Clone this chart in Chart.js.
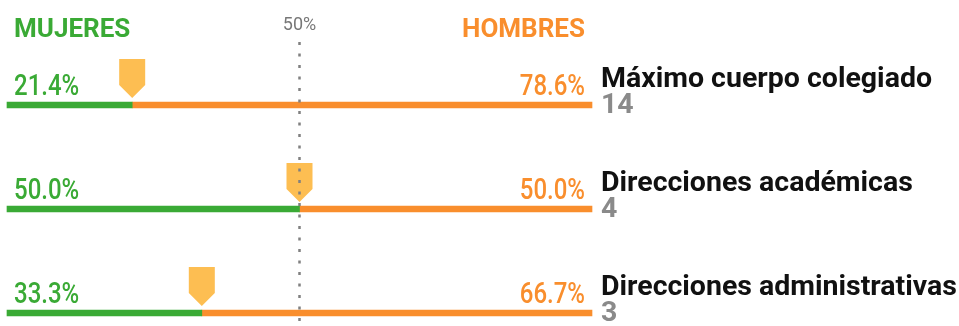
<!DOCTYPE html>
<html>
<head>
<meta charset="utf-8">
<script src="https://cdn.jsdelivr.net/npm/chart.js@4"></script>
<style>
  html, body { margin: 0; padding: 0; background: #fff; }
</style>
</head>
<body>
<canvas id="myChart" width="959" height="326"></canvas>
<script>
var categories = ['Máximo cuerpo colegiado', 'Direcciones académicas', 'Direcciones administrativas'];
var totals = [14, 4, 3];
var mujeres = [21.4, 50.0, 33.3];
var hombres = [78.6, 50.0, 66.7];

var GREEN = '#3aaa35';
var ORANGE = '#f98e2d';
var MARKER = '#fdbe52';

// titles, percentages, markers and the 50% reference line
var overlay = {
    id: 'overlay',
    afterDatasetsDraw: function(chart) {
        var ctx = chart.ctx;
        var x = chart.scales.x;
        var y = chart.scales.y;
        var left = x.getPixelForValue(0);
        var right = x.getPixelForValue(100);
        var mid = x.getPixelForValue(50);

        ctx.save();
        ctx.textBaseline = 'alphabetic';

        // header
        ctx.font = 'bold 26px Roboto';
        ctx.fillStyle = GREEN;
        ctx.textAlign = 'left';
        ctx.fillText('MUJERES', left + 7, 37);
        ctx.fillStyle = ORANGE;
        ctx.textAlign = 'right';
        ctx.fillText('HOMBRES', right - 7, 37);
        ctx.font = '18px Roboto';
        ctx.fillStyle = '#777';
        ctx.textAlign = 'center';
        ctx.fillText('50%', mid, 30);

        categories.forEach(function(cat, i) {
            var py = y.getPixelForValue(i);
            var px = x.getPixelForValue(mujeres[i]);

            // marker
            ctx.fillStyle = MARKER;
            ctx.beginPath();
            ctx.moveTo(px - 13, py - 46);
            ctx.lineTo(px + 13, py - 46);
            ctx.lineTo(px + 13, py - 20);
            ctx.lineTo(px, py - 7);
            ctx.lineTo(px - 13, py - 20);
            ctx.closePath();
            ctx.fill();

            // percentages (narrow type)
            ctx.font = '500 30px Roboto';
            ctx.save();
            ctx.translate(left + 7, py - 10);
            ctx.scale(0.8, 1);
            ctx.fillStyle = GREEN;
            ctx.textAlign = 'left';
            ctx.fillText(mujeres[i].toFixed(1) + '%', 0, 0);
            ctx.restore();
            ctx.save();
            ctx.translate(right - 7, py - 10);
            ctx.scale(0.8, 1);
            ctx.fillStyle = ORANGE;
            ctx.textAlign = 'right';
            ctx.fillText(hombres[i].toFixed(1) + '%', 0, 0);
            ctx.restore();

            // category and count
            ctx.textAlign = 'left';
            ctx.font = 'bold 28.5px Roboto';
            ctx.fillStyle = '#111';
            ctx.fillText(cat, right + 9, py - 18);
            ctx.fillStyle = '#8a8a8a';
            ctx.fillText(String(totals[i]), right + 9, py + 8);
        });

        // 50% dashed line
        ctx.strokeStyle = '#808080';
        ctx.lineWidth = 2.5;
        ctx.setLineDash([3, 8.5]);
        ctx.beginPath();
        ctx.moveTo(mid, 42);
        ctx.lineTo(mid, chart.height);
        ctx.stroke();
        ctx.restore();
    }
};

var ctx = document.getElementById('myChart').getContext('2d');
var myChart = new Chart(ctx, {
    type: 'bar',
    data: {
        labels: categories,
        datasets: [{
            label: 'Mujeres',
            data: mujeres,
            backgroundColor: GREEN,
            barThickness: 6,
            clip: false
        }, {
            label: 'Hombres',
            data: hombres,
            backgroundColor: ORANGE,
            barThickness: 6,
            clip: false
        }]
    },
    options: {
        indexAxis: 'y',
        responsive: false,
        animation: false,
        layout: {
            padding: { left: 7, right: 367, top: 105, bottom: 13 }
        },
        plugins: {
            legend: { display: false },
            tooltip: { enabled: false }
        },
        scales: {
            x: { stacked: true, min: 0, max: 100, display: false },
            y: { stacked: true, offset: false, display: false }
        }
    },
    plugins: [overlay]
});
</script>
</body>
</html>
